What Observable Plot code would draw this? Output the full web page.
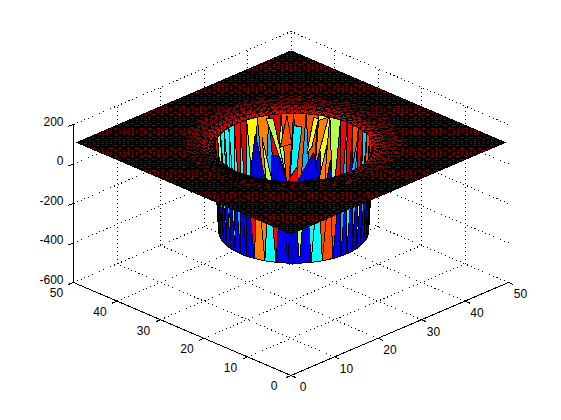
<!DOCTYPE html>
<html><head><meta charset="utf-8">
<script src="https://cdn.jsdelivr.net/npm/d3@7"></script>
<script src="https://cdn.jsdelivr.net/npm/@observablehq/plot@0.6"></script>
<style>html,body{margin:0;padding:0;background:#fff}</style>
</head><body><div id="chart"></div>
<script>
const xTicks=[0,10,20,30,40,50];
const yTicks=[0,10,20,30,40,50];
const zTicks=[-600,-400,-200,0,200];
const sheetZ=109;
const sheetLimits=[0.4,49.6];
const sheetCells=50;
const holeCentre=[25.3,24.7];
const rimRadius=13, rimZ=83, footRadius=12.2, footZ=-340;
const ringRadii=[13,14,15,16,17,18.5];
const ringHeights=[83,92,100,105,109,109];
const ringLevels=[0.9,0.95,1,1,1];
const wallAngles=[-90,-84,-78,-72,-66,-60,-54,-48,-42,-36,-27,-18,-9,0,9,18,27,36,42,48,54,60,66,72,78,84,90];
// jet colour values read panel by panel, left to right
const backUpper=[.875,.875,.875,.55,.38,.38,.38,.875,.9,.63,.75,.9,.8,.8,.8,.6,.55,.875,.875,.8,.875,.33,.8,.875,.875,.875];
const backLower=[.875,.875,.875,.875,.38,.38,.38,.38,.38,.3,.3,.55,.875,.3,.12,.75,.875,.3,.12,.3,.12,.8,.875,.875,.875,.875];
const frontUpper=[.08,.08,.12,.3,.38,.3,.38,.3,.12,.875,.75,.875,.12,.55,.38,.8,.8,.3,.38,.3,.63,.3,.12,.08,.08,.08];
const frontLower=[.08,.08,.08,.08,.12,.08,.12,.12,.08,.75,.38,.12,.08,.12,.38,.8,.12,.12,.12,.08,.12,.12,.08,.08,.08,.08];
// irregular facets seen on the far wall: [angle, z] corners and colour value
const farWallFacets=[
  [[-28.6,0],[-33.4,-218],[-20.7,-246]],
  [[-15.7,-123],[-10.8,-127],[-4.8,-264],[-15.7,-258]],
  [[14.5,-109],[18.2,-237],[2.4,-265]],
  [[-20,66],[-14.5,61],[-6,-221]],
  [[-23.3,-23],[-15.7,-250],[-20,-246]],
  [[24.6,-64],[23.3,-242],[18.2,-248]],
  [[27.3,-136],[28.6,-225],[24.6,-231]],
  [[54.3,51],[50.4,-143],[45.1,-189]],
  [[0,22],[6,15],[2.4,-189],[-2.4,-239]],
  [[14.5,69],[18.2,65],[13.2,-83],[9.6,-118]],
  [[18.2,56],[25.9,82],[15.7,-182]],
  [[-4.8,73],[-1.2,-71],[-9.6,-85]]
];
const farWallFacetLevels=[.08,.1,.1,.55,.55,.75,.12,.3,.36,.62,.75,.8];
const jetStops=[0,.125,.375,.625,.875,1];
const jetColors=["#00008f","#0000ff","#00ffff","#ffff00","#ff0000","#800000"];

// 3-D view of the box: azimuth -45 degrees, orthographic
const view=(x,y,z)=>({px:290.5+4.35*(x-y),py:375-1.86*(x+y)-0.1975*(z+600)});
const polar=(deg,r,z,front)=>{
  const a=deg*Math.PI/180,c=(front?-1:1)*Math.cos(a),s=Math.sin(a);
  return view(holeCentre[0]+r*(c+s)/Math.SQRT2,holeCentre[1]+r*(c-s)/Math.SQRT2,z);
};
let pid=0;
const poly=(pts,level)=>{const id=pid++;return [...pts,pts[0]].map(p=>({...p,id,level}));};

function wall(upper,lower,front){
  const out=[];
  const n=wallAngles.length-1;
  const mid=i=>i>=n?wallAngles[n]:(wallAngles[i]+wallAngles[i+1])/2;
  for(let i=0;i<n;i++){
    const t1=polar(wallAngles[i],rimRadius,rimZ,front),t2=polar(wallAngles[i+1],rimRadius,rimZ,front);
    const b1=polar(mid(i),footRadius,footZ,front),b2=polar(mid(i+1),footRadius,footZ,front);
    out.push(...poly([t1,t2,b1],upper[i]));
    out.push(...poly([t2,b2,b1],lower[i]));
  }
  return out;
}
const back=wall(backUpper,backLower,false);
const fronts=wall(frontUpper,frontLower,true);
const farFacets=farWallFacets.flatMap((f,i)=>poly(f.map(([a,z])=>polar(a,rimRadius,z)),farWallFacetLevels[i]));

const ring=[];
for(let j=0;j<ringRadii.length-1;j++){
  for(let d=0;d<360;d+=5){
    const p=polar(d,ringRadii[j],ringHeights[j]),q=polar(d+5,ringRadii[j],ringHeights[j]);
    const r=polar(d+5,ringRadii[j+1],ringHeights[j+1]),s=polar(d,ringRadii[j+1],ringHeights[j+1]);
    ring.push(...poly([p,q,r],ringLevels[j]));
    ring.push(...poly([p,r,s],ringLevels[j]));
  }
}
const sheet=[];
const step=(sheetLimits[1]-sheetLimits[0])/sheetCells;
const outer=17;
for(let i=0;i<sheetCells;i++)for(let j=0;j<sheetCells;j++){
  const x0=sheetLimits[0]+i*step,y0=sheetLimits[0]+j*step,x1=x0+step,y1=y0+step;
  const rmin=Math.min(...[[x0,y0],[x1,y0],[x1,y1],[x0,y1]].map(([a,b])=>Math.hypot(a-holeCentre[0],b-holeCentre[1])));
  if(rmin<outer)continue;
  const A=view(x0,y0,sheetZ),B=view(x1,y0,sheetZ),C=view(x1,y1,sheetZ),D=view(x0,y1,sheetZ);
  sheet.push(...poly([A,B,D],1));
  sheet.push(...poly([B,C,D],1));
}

// grid lines and axis furniture
const seg=(a,b)=>{const p=view(...a),q=view(...b);return {x1:p.px,y1:p.py,x2:q.px,y2:q.py};};
const [z0,z1]=[zTicks[0],zTicks[zTicks.length-1]];
const grid=[];
xTicks.slice(1).forEach(t=>{grid.push(seg([t,0,z0],[t,50,z0]));grid.push(seg([t,50,z0],[t,50,z1]));});
yTicks.slice(1).forEach(t=>{grid.push(seg([0,t,z0],[50,t,z0]));grid.push(seg([50,t,z0],[50,t,z1]));});
zTicks.slice(1).forEach(t=>{grid.push(seg([0,50,t],[50,50,t]));grid.push(seg([50,0,t],[50,50,t]));});
const axes=[seg([0,0,z0],[50,0,z0]),seg([0,0,z0],[0,50,z0]),seg([0,50,z0],[0,50,z1])];
const ticks=[
  ...xTicks.map(t=>seg([t,0,z0],[t,-1.1,z0])),
  ...yTicks.map(t=>seg([0,t,z0],[-1.1,t,z0])),
  ...zTicks.map(t=>seg([0,50,t],[-1.1,50+.1,t]))
];
const xLabels=xTicks.map(t=>({...view(t,0,z0),t}));
const yLabels=yTicks.map(t=>({...view(0,t,z0),t}));
const zLabels=zTicks.map(t=>({...view(0,50,t),t}));

const crisp={shapeRendering:"crispEdges"};
const facet=d=>Plot.line(d,{x:"px",y:"py",z:"id",fill:"level",stroke:"black",strokeWidth:1,curve:"linear",...crisp});
const lbl={text:"t",fill:"black",fontSize:12};
const chart=Plot.plot({
  width:561,height:420,margin:0,
  style:{background:"#fff",fontFamily:"'Liberation Sans',Arial,sans-serif"},
  x:{domain:[0,561],range:[0,561],axis:null},
  y:{domain:[0,420],range:[0,420],axis:null},
  color:{type:"linear",domain:jetStops,range:jetColors,interpolate:"rgb"},
  marks:[
    Plot.link(grid,{x1:"x1",y1:"y1",x2:"x2",y2:"y2",stroke:"black",strokeWidth:1,strokeDasharray:"1,3",...crisp}),
    facet(back),facet(farFacets),facet(fronts),facet(ring),facet(sheet),
    Plot.link(axes,{x1:"x1",y1:"y1",x2:"x2",y2:"y2",stroke:"black",strokeWidth:1,...crisp}),
    Plot.link(ticks,{x1:"x1",y1:"y1",x2:"x2",y2:"y2",stroke:"black",strokeWidth:1,...crisp}),
    Plot.text(xLabels,{x:"px",y:"py",dx:12,dy:12,...lbl}),
    Plot.text(yLabels,{x:"px",y:"py",dx:-17,dy:11,...lbl}),
    Plot.text(zLabels,{x:"px",y:"py",dx:-10,dy:-2.5,textAnchor:"end",...lbl})
  ]
});
document.getElementById("chart").appendChild(chart);
</script></body></html>
